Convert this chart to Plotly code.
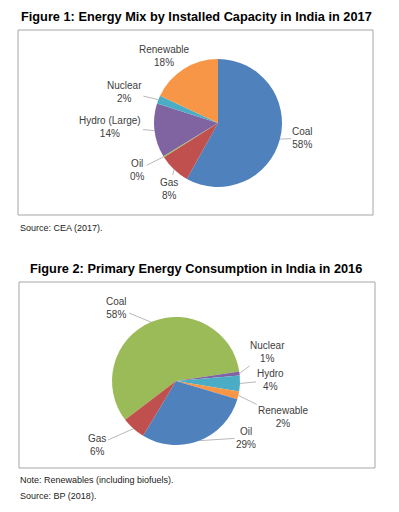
import math
import plotly.graph_objects as go

W, H = 399, 512

# ---- Data ----
fig1_labels = ["Coal", "Gas", "Oil", "Hydro (Large)", "Nuclear", "Renewable"]
fig1_values = [58.1, 7.9, 0.3, 13.6, 2.1, 18.0]
fig1_colors = ["#4F81BD", "#C0504D", "#9BBB59", "#8064A2", "#4BACC6", "#F79646"]

fig2_labels = ["Coal", "Nuclear", "Hydro", "Renewable", "Oil", "Gas"]
fig2_values = [58, 1, 4, 2, 29, 6]
fig2_colors = ["#9BBB59", "#8064A2", "#4BACC6", "#F79646", "#4F81BD", "#C0504D"]

title1 = "Figure 1: Energy Mix by Installed Capacity in India in 2017"
title2 = "Figure 2: Primary Energy Consumption in India in 2016"
source1 = "Source: CEA (2017)."
note2 = "Note: Renewables (including biofuels)."
source2 = "Source: BP (2018)."

FONT = "Liberation Sans, Arial, sans-serif"

# ---- layout helpers (pixel -> paper) ----
def px(x):
    return x / W

def py(y):
    return 1 - y / H

pie1 = dict(cx=218, cy=123, r=64, rotation=0)
pie2 = dict(cx=176, cy=381, r=64, rotation=232.6)

# label text offsets (pixels from leader tip), styling only
offs1 = {"Coal": (23, -1), "Gas": (-5, 19), "Oil": (-26, 13),
         "Hydro (Large)": (-44, -4), "Nuclear": (-34, -8), "Renewable": (-20, -13)}
offs2 = {"Coal": (-34, -14), "Nuclear": (28, -21), "Hydro": (31, -3),
         "Renewable": (45, 22), "Oil": (47, -3), "Gas": (-36, 16)}

fig = go.Figure()
annotations = []
shapes = []


def add_pie(labels, values, colors, geom, offs):
    cx, cy, r = geom["cx"], geom["cy"], geom["r"]
    fig.add_trace(go.Pie(
        labels=labels, values=values, sort=False, direction="clockwise",
        rotation=geom["rotation"], marker=dict(colors=colors, line=dict(width=0)),
        textinfo="none", hoverinfo="label+percent", showlegend=False,
        domain=dict(x=[px(cx - r), px(cx + r)], y=[py(cy + r), py(cy - r)]),
    ))
    total = sum(values)
    cum = 0.0
    for lab, v in zip(labels, values):
        mid = geom["rotation"] + 360 * (cum + v / 2) / total
        cum += v
        a = math.radians(mid)
        tx = cx + r * math.sin(a)
        ty = cy - r * math.cos(a)
        pct = round(100 * v / total)
        ox, oy = offs[lab]
        annotations.append(dict(
            x=px(tx), y=py(ty), xref="paper", yref="paper",
            text=f"{lab}<br>{pct}%", showarrow=True, arrowhead=0,
            arrowwidth=0.8, arrowcolor="#A6A6A6", ax=ox, ay=oy,
            axref="pixel", ayref="pixel", align="center",
            font=dict(family=FONT, size=10, color="#404040"),
        ))


add_pie(fig1_labels, fig1_values, fig1_colors, pie1, offs1)
add_pie(fig2_labels, fig2_values, fig2_colors, pie2, offs2)

# frames
for (x0, y0, x1, y1) in [(18, 30, 373, 215), (19, 282, 375, 468)]:
    shapes.append(dict(type="rect", xref="paper", yref="paper",
                       x0=px(x0), x1=px(x1), y0=py(y1), y1=py(y0),
                       line=dict(color="#A6A6A6", width=1), fillcolor="rgba(0,0,0,0)"))

# titles
for txt, xc, yc in [(title1, 196, 16), (title2, 196, 268)]:
    annotations.append(dict(x=px(xc), y=py(yc), xref="paper", yref="paper",
                            text=f"<b>{txt}</b>", showarrow=False,
                            xanchor="center", yanchor="middle",
                            font=dict(family=FONT, size=12.75, color="#000000")))

# source / notes
for txt, yc in [(source1, 228), (note2, 480), (source2, 496)]:
    annotations.append(dict(x=px(18), y=py(yc), xref="paper", yref="paper",
                            text=txt, showarrow=False, xanchor="left", yanchor="middle",
                            font=dict(family=FONT, size=9, color="#222222")))

fig.update_layout(
    width=W, height=H, margin=dict(l=0, r=0, t=0, b=0),
    paper_bgcolor="white", plot_bgcolor="white",
    annotations=annotations, shapes=shapes,
)

fig.write_html("out.html", config={"displayModeBar": False},
               post_script="document.body.style.margin='0';")
